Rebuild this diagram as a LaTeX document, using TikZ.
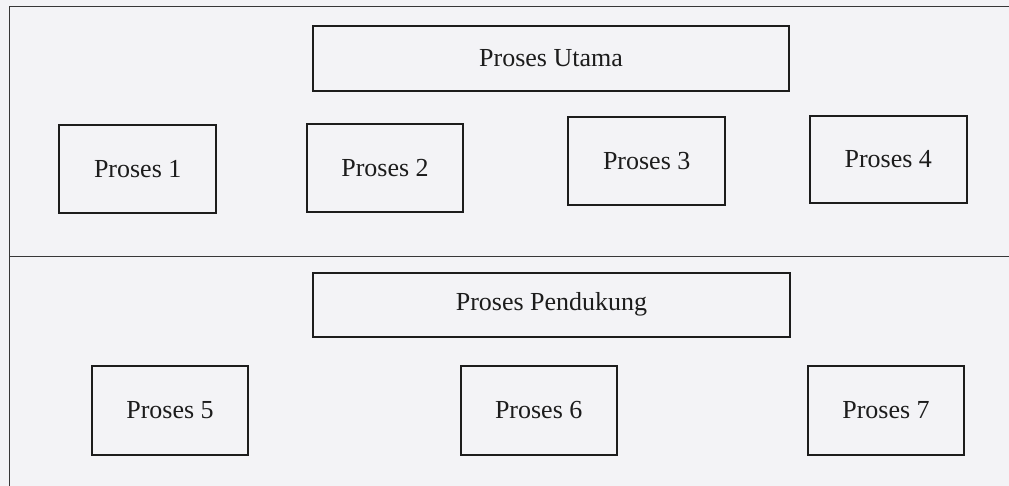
\documentclass[tikz,border=0pt]{standalone}
\usepackage{fontspec}
\setmainfont{Liberation Serif}
\definecolor{paper}{RGB}{243,243,246}
\definecolor{ink}{RGB}{28,28,28}
\definecolor{frame}{RGB}{55,55,55}
\begin{document}
\begin{tikzpicture}[x=1pt,y=-1pt,
  box/.style n args={2}{draw=ink, line width=2.2pt, rectangle, inner sep=0pt,
    minimum width=#1pt, minimum height=#2pt, text=ink,
    font=\fontsize{26}{30}\selectfont},
  frameline/.style={draw=frame, line width=1.8pt}]
\fill[paper] (0,0) rectangle (1009,486);
\useasboundingbox (0,0) rectangle (1009,486);
\coordinate (ftr) at (1009,6.5);
\coordinate (ftl) at (9.5,6.5);
\coordinate (fbl) at (9.5,486);
\coordinate (dl) at (9.5,256.5);
\coordinate (dr) at (1009,256.5);
\draw[frameline] (ftr) -- (ftl) -- (fbl);
\draw[frameline] (dl) -- (dr);
\node[box={476}{65}] (utama) at (551,58.5) {Proses Utama};
\node[box={156.7}{88.3}] (p1) at (137.7,169.2) {Proses 1};
\node[box={156.7}{87.7}] (p2) at (385,167.8) {Proses 2};
\node[box={156.7}{87.7}] (p3) at (646.7,161.2) {Proses 3};
\node[box={156.7}{87.7}] (p4) at (888.3,159.5) {Proses 4};
\node[box={477}{64}] (pendukung) at (551.5,304.7) {Proses Pendukung};
\node[box={156.7}{89.3}] (p5) at (170,410.3) {Proses 5};
\node[box={156}{89}] (p6) at (538.7,410.5) {Proses 6};
\node[box={156.7}{89.3}] (p7) at (886,410.3) {Proses 7};
\end{tikzpicture}
\end{document}
